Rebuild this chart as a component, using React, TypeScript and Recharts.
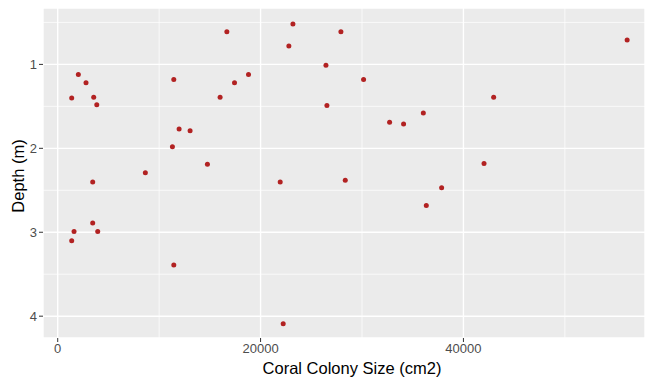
import { ScatterChart, Scatter, XAxis, YAxis, CartesianGrid, ReferenceLine } from "recharts";

// page has the default 8px body margin, drop it so the chart sits at 0,0
document.body.style.margin = "0";

const colonySize = [
  2035, 2790, 1380, 3550, 3850, 3450, 8640, 11445, 11310, 11970, 13050, 14760, 16675, 16010, 17430, 18810,
  21935, 22790, 23190, 26445, 26540, 27920, 30155, 32720, 34100, 36045, 42980, 42030, 28350, 37850, 56140,
  1610, 1380, 3450, 3945, 11445, 22230, 36340,
];
const depth = [
  1.12, 1.22, 1.4, 1.39, 1.48, 2.4, 2.29, 1.18, 1.98, 1.77, 1.79, 2.19, 0.61, 1.39, 1.22, 1.12,
  2.4, 0.78, 0.52, 1.01, 1.49, 0.61, 1.18, 1.69, 1.71, 1.58, 1.39, 2.18, 2.38, 2.47, 0.71,
  2.99, 3.1, 2.89, 2.99, 3.39, 4.09, 2.68,
];

const xTicks = [0, 20000, 40000];
const xMinor = [10000, 30000, 50000];
const yTicks = [1, 2, 3, 4];
const yMinor = [0.5, 1.5, 2.5, 3.5];

const points = colonySize.map((x, i) => ({ size: x, depth: depth[i] }));

const FONT = "Liberation Sans, Arial, sans-serif";

const Dot = (props: any) => <circle cx={props.cx} cy={props.cy} r={2.5} fill="#B22222" />;

const tickStyle = { fill: "#4D4D4D", fontSize: 13, fontFamily: FONT };

const XTitle = (props: any) => {
  const vb = props.viewBox;
  return (
    <text x={vb.x + vb.width / 2 + 8} y={vb.y + 36} textAnchor="middle" fill="#000" fontSize={16.5} fontFamily={FONT}>
      Coral Colony Size (cm2)
    </text>
  );
};

const YTitle = (props: any) => {
  const vb = props.viewBox;
  const x = vb.x + 24;
  const y = vb.y + vb.height / 2 + 3;
  return (
    <text x={x} y={y} transform={`rotate(-90 ${x} ${y})`} textAnchor="middle" fill="#000" fontSize={16.5} fontFamily={FONT}>
      Depth (m)
    </text>
  );
};

export default function App() {
  return (
    <div style={{ width: 645, height: 381, overflow: "hidden", background: "#fff" }}>
      <ScatterChart width={645} height={381} margin={{ top: 8, right: 0, bottom: 0, left: 0 }}>
        <CartesianGrid fill="#EBEBEB" stroke="#FFFFFF" strokeWidth={1.4} />
        {xMinor.map((v) => (
          <ReferenceLine key={"x" + v} x={v} stroke="#FFFFFF" strokeWidth={0.7} />
        ))}
        {yMinor.map((v) => (
          <ReferenceLine key={"y" + v} y={v} stroke="#FFFFFF" strokeWidth={0.7} />
        ))}
        <XAxis
          type="number"
          dataKey="size"
          domain={[-1450, 57900]}
          ticks={xTicks}
          allowDataOverflow
          height={43}
          axisLine={false}
          tickLine={{ stroke: "#333333" }}
          tickSize={4}
          tick={tickStyle}
          label={{ content: XTitle }}
        />
        <YAxis
          type="number"
          dataKey="depth"
          reversed
          domain={[0.328, 4.26]}
          ticks={yTicks}
          allowDataOverflow
          width={43}
          axisLine={false}
          tickLine={{ stroke: "#333333" }}
          tickSize={4}
          tick={tickStyle}
          label={{ content: YTitle }}
        />
        <Scatter data={points} shape={<Dot />} isAnimationActive={false} />
      </ScatterChart>
    </div>
  );
}
